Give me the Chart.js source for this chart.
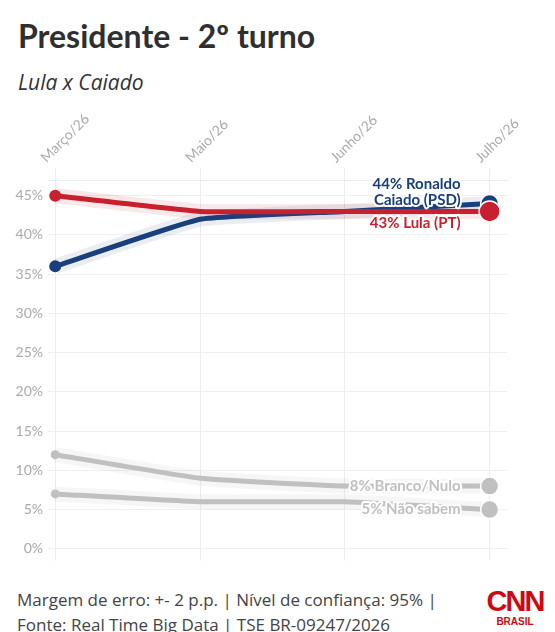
<!DOCTYPE html>
<html>
<head>
<meta charset="utf-8">
<script src="https://cdn.jsdelivr.net/npm/chart.js@4.4.0/dist/chart.umd.min.js"></script>
<style>
    body { margin: 0; background: #fff; width: 555px; height: 632px; position: relative; overflow: hidden; font-family: Lato, sans-serif; }
    #title { position: absolute; left: 18px; top: 16px; font-size: 32px; font-weight: bold; color: #2f2f2f; }
    #subtitle { position: absolute; left: 18px; top: 68px; font-family: "Open Sans", sans-serif; font-size: 21px; font-style: italic; color: #333; }
    #chartBox { position: absolute; left: 0; top: 100px; width: 555px; height: 474px; }
    #footer { position: absolute; left: 17px; top: 587px; font-family: "Open Sans", sans-serif; font-size: 17px; color: #444; line-height: 25px; }
    #logo { position: absolute; left: 486px; top: 586px; width: 58px; text-align: center; color: #cc0a12; }
    #logo .cnn { font-family: "Liberation Sans", sans-serif; font-weight: bold; font-size: 29px; letter-spacing: -2px; line-height: 30px; }
    #logo .br { font-family: "Liberation Sans", sans-serif; font-weight: bold; font-size: 10px; line-height: 12px; }
</style>
</head>
<body>
<div id="title">Presidente - 2º turno</div>
<div id="subtitle">Lula x Caiado</div>
<div id="chartBox"><canvas id="pollChart"></canvas></div>
<div id="footer">Margem de erro: +- 2 p.p. | Nível de confiança: 95% |<br>Fonte: Real Time Big Data | TSE BR-09247/2026</div>
<div id="logo"><div class="cnn">CNN</div><div class="br">BRASIL</div></div>

<script>
// Poll data
const months = ['Março/26', 'Maio/26', 'Junho/26', 'Julho/26'];
const caiado = [36, 42, 43, 44];
const lula = [45, 43, 43, 43];
const brancoNulo = [12, 9, 8, 8];
const naoSabem = [7, 6, 6, 5];
const yTicks = [0, 5, 10, 15, 20, 25, 30, 35, 40, 45];

// End label lines for each series
const caiadoLabel = ['44% Ronaldo', 'Caiado (PSD)'];
const lulaLabel = ['43% Lula (PT)'];
const brancoLabel = ['8% Branco/Nulo'];
const naoSabemLabel = ['5% Não sabem'];

const BLUE = '#193f7d';
const RED = '#c8202f';
const GRAY = '#c0c0c0';

const toPoints = arr => arr.map((v, i) => ({ x: i, y: v }));
const last = arr => arr.length - 1;

function mainLine(data, color, startRadius, endRadius, order, label) {
    return {
        data: toPoints(data),
        borderColor: color,
        backgroundColor: color,
        borderWidth: 5,
        tension: 0.12,
        pointRadius: ctx => ctx.dataIndex === 0 ? startRadius : (ctx.dataIndex === last(data) ? endRadius : 0),
        pointBorderColor: '#fff',
        pointBorderWidth: ctx => ctx.dataIndex === last(data) ? 1.5 : 0,
        order: order,
        endLabel: label
    };
}

function haloLine(data, color, order) {
    return {
        data: toPoints(data),
        borderColor: color,
        borderWidth: 15,
        tension: 0.12,
        pointRadius: 0,
        order: order
    };
}

// Draws the labels at the end of each line, with a white halo
const endLabels = {
    id: 'endLabels',
    afterDatasetsDraw(chart) {
        const ctx = chart.ctx;
        ctx.save();
        ctx.font = 'bold 15px Lato';
        ctx.textAlign = 'right';
        ctx.textBaseline = 'middle';
        ctx.lineJoin = 'round';
        chart.data.datasets.forEach((ds, i) => {
            if (!ds.endLabel) return;
            const meta = chart.getDatasetMeta(i);
            const pt = meta.data[meta.data.length - 1];
            const lines = ds.endLabel.lines;
            lines.forEach((txt, j) => {
                const y = pt.y + ds.endLabel.dy + j * 16;
                const x = pt.x - 29;
                ctx.strokeStyle = '#fff';
                ctx.lineWidth = 4;
                ctx.strokeText(txt, x, y);
                ctx.fillStyle = ds.endLabel.color;
                ctx.fillText(txt, x, y);
            });
        });
        ctx.restore();
    }
};

const ctx = document.getElementById('pollChart');
new Chart(ctx, {
    type: 'line',
    data: {
        datasets: [
            mainLine(lula, RED, 6, 10.5, 1, { lines: lulaLabel, dy: 12, color: RED }),
            mainLine(caiado, BLUE, 6, 9, 2, { lines: caiadoLabel, dy: -19, color: BLUE }),
            mainLine(brancoNulo, GRAY, 4.5, 9, 3, { lines: brancoLabel, dy: 0, color: GRAY }),
            mainLine(naoSabem, GRAY, 4.5, 9, 4, { lines: naoSabemLabel, dy: 0, color: GRAY }),
            haloLine(lula, 'rgba(200,32,47,0.10)', 5),
            haloLine(caiado, 'rgba(25,63,125,0.09)', 6),
            haloLine(brancoNulo, 'rgba(190,190,190,0.14)', 7),
            haloLine(naoSabem, 'rgba(190,190,190,0.14)', 8)
        ]
    },
    options: {
        responsive: true,
        maintainAspectRatio: false,
        animation: false,
        layout: { padding: { left: 0, right: 48, top: 0, bottom: 6 } },
        plugins: {
            legend: { display: false },
            tooltip: { enabled: false }
        },
        scales: {
            x: {
                type: 'linear',
                position: 'top',
                min: -0.05,
                max: 3.12,
                afterFit: scale => { scale.height = 80; },
                ticks: {
                    stepSize: 1,
                    includeBounds: false,
                    autoSkip: false,
                    maxRotation: 45,
                    minRotation: 45,
                    color: '#aaa',
                    font: { family: 'Lato', size: 14 },
                    padding: 2,
                    callback: v => months[v] || ''
                },
                grid: { color: '#ececec', tickLength: 12, drawTicks: true },
                border: { display: true, color: '#ececec' }
            },
            y: {
                min: -1.5,
                max: 47,
                afterFit: scale => { scale.width = 48; },
                afterBuildTicks: scale => { scale.ticks = yTicks.map(v => ({ value: v })); },
                ticks: {
                    color: '#aaa',
                    font: { family: 'Lato', size: 14 },
                    padding: 5,
                    callback: v => v + '%'
                },
                grid: { color: '#efefef', drawTicks: false },
                border: { display: false }
            }
        }
    },
    plugins: [endLabels]
});
</script>
</body>
</html>
